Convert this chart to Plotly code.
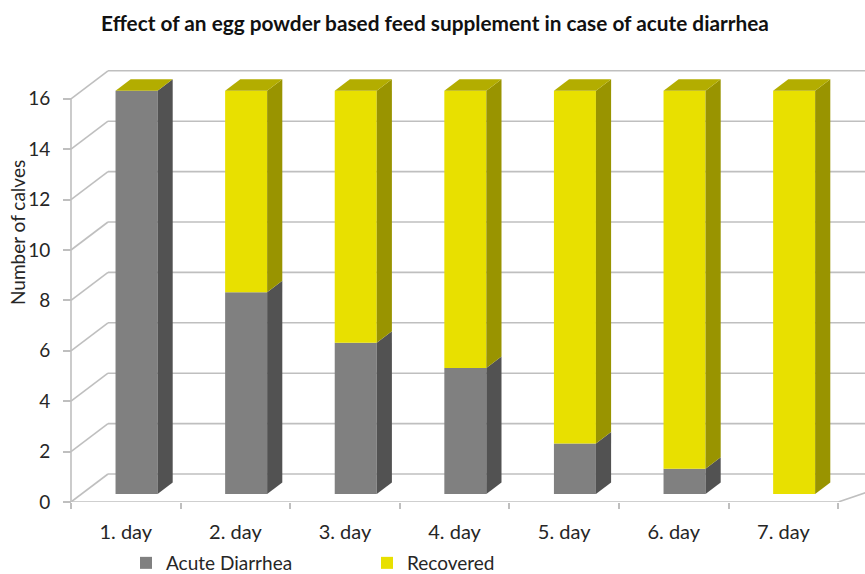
import plotly.graph_objects as go

# ---- data ----
categories = ["1. day", "2. day", "3. day", "4. day", "5. day", "6. day", "7. day"]
acute = [16, 8, 6, 5, 2, 1, 0]
recovered = [0, 8, 10, 11, 14, 15, 16]
y_ticks = [0, 2, 4, 6, 8, 10, 12, 14, 16]

# ---- geometry (pixel scale of the pseudo-3D box) ----
W, H = 865, 574
ML, MR, MT, MB = 0, 0, 55, 72
AX_X = 71              # pixel x of front vertical axis
UX = 109.6             # pixels per category
UY = 25.2              # pixels per value unit
DX = 37 / UX           # depth vector of box (data units)
DY = 28 / UY
T1, T2 = 0.29, 0.70    # bar front/back depth fractions
BAR_W = 42 / UX

x_min = (0 - AX_X) / UX - 0.5
x_max = (W - AX_X) / UX - 0.5
y_max = (H - MT - MB) / UY

FONT = "Lato"
TXT = "#262626"
GRID = "#BFBFBF"
GRAY_F, GRAY_S = "#808080", "#525252"
YEL_F, YEL_S, YEL_T = "#E8E000", "#999400", "#B3AD00"

fig = go.Figure()

xs = list(range(len(categories)))
centers = [i + T1 * DX for i in xs]
base_a = [T1 * DY for _ in xs]
base_r = [a + T1 * DY for a in acute]

fig.add_trace(go.Bar(x=centers, y=acute, base=base_a, width=BAR_W, name="Acute Diarrhea",
                     marker=dict(color=GRAY_F, line=dict(width=0)), hoverinfo="skip"))
fig.add_trace(go.Bar(x=centers, y=recovered, base=base_r, width=BAR_W, name="Recovered",
                     marker=dict(color=YEL_F, line=dict(width=0)), hoverinfo="skip"))

# side and top faces derived from the data
ddx = (T2 - T1) * DX
ddy = (T2 - T1) * DY
for i in xs:
    xr = centers[i] + BAR_W / 2
    xl = centers[i] - BAR_W / 2
    segs = [(0, acute[i], GRAY_S), (acute[i], acute[i] + recovered[i], YEL_S)]
    for b, t, col in segs:
        if t - b <= 0:
            continue
        b0, t0 = b + T1 * DY, t + T1 * DY
        fig.add_trace(go.Scatter(
            x=[xr, xr + ddx, xr + ddx, xr, xr],
            y=[b0, b0 + ddy, t0 + ddy, t0, b0],
            fill="toself", fillcolor=col, mode="lines", line=dict(width=0, color=col),
            showlegend=False, hoverinfo="skip"))
    top = acute[i] + recovered[i] + T1 * DY
    fig.add_trace(go.Scatter(
        x=[xl, xr, xr + ddx, xl + ddx, xl],
        y=[top, top, top + ddy, top + ddy, top],
        fill="toself", fillcolor=YEL_T, mode="lines", line=dict(width=0, color=YEL_T),
        showlegend=False, hoverinfo="skip"))

# gridlines on left wall and back wall
shapes = []
for v in y_ticks:
    shapes.append(dict(type="line", xref="x", yref="y", x0=-0.5, y0=v, x1=-0.5 + DX, y1=v + DY,
                       line=dict(color=GRID, width=1.6), layer="below"))
    shapes.append(dict(type="line", xref="x", yref="y", x0=-0.5 + DX, y0=v + DY, x1=x_max, y1=v + DY,
                       line=dict(color=GRID, width=1.6), layer="below"))
# front vertical axis line
shapes.append(dict(type="line", xref="x", yref="y", x0=-0.5, y0=0, x1=-0.5, y1=y_ticks[-1],
                   line=dict(color=GRID, width=1.6), layer="below"))
# front floor line
shapes.append(dict(type="line", xref="x", yref="y", x0=-0.5, y0=0, x1=len(categories) - 0.5, y1=0,
                   line=dict(color=GRID, width=1.6), layer="below"))
# right floor edge
shapes.append(dict(type="line", xref="x", yref="y", x0=len(categories) - 0.5, y0=0,
                   x1=len(categories) - 0.5 + 40 / UX, y1=13.5 / UY,
                   line=dict(color=GRID, width=1.6), layer="below"))

fig.update_layout(
    width=W, height=H,
    margin=dict(l=ML, r=MR, t=MT, b=MB, autoexpand=False),
    paper_bgcolor="white", plot_bgcolor="white",
    barmode="overlay",
    shapes=shapes,
    font=dict(family=FONT, color=TXT),
    title=dict(text="<b>Effect of an egg powder based feed supplement in case of acute diarrhea</b>",
               x=435 / W, xanchor="center", y=1 - 24 / H, yanchor="middle",
               font=dict(family=FONT, size=20.8, color="#111111")),
    xaxis=dict(range=[x_min, x_max], domain=[0, 1], showgrid=False, zeroline=False, showline=False,
               automargin=False,
               tickmode="array", tickvals=xs, ticktext=categories, ticks="",
               tickfont=dict(family=FONT, size=20, color=TXT), ticklabelstandoff=16,
               minor=dict(tickmode="array", tickvals=[i - 0.5 for i in range(len(categories) + 1)],
                          ticks="outside", ticklen=6, tickcolor=GRID, tickwidth=1.6)),
    yaxis=dict(range=[0, y_max], showgrid=False, zeroline=False, showline=False,
               automargin=False, anchor="free", position=AX_X / W,
               tickmode="array", tickvals=y_ticks, ticks="outside", ticklen=8,
               tickcolor=GRID, tickwidth=1.6,
               tickfont=dict(family=FONT, size=19, color=TXT), ticklabelstandoff=9),
    legend=dict(orientation="h", x=126 / W, xanchor="left", y=(502 - 563) / (H - MT - MB),
                yanchor="middle", font=dict(family=FONT, size=19, color=TXT),
                entrywidth=196, entrywidthmode="pixels", itemclick=False),
    annotations=[dict(text="Number of calves", textangle=-90, xref="paper", yref="paper",
                      x=17 / W, y=(502 - 233) / (H - MT - MB), xanchor="center", yanchor="middle",
                      showarrow=False, font=dict(family=FONT, size=19, color=TXT))],
)

fig.write_html("out.html", config={"displayModeBar": False},
               post_script="document.body.style.margin='0';document.body.style.overflow='hidden';")
